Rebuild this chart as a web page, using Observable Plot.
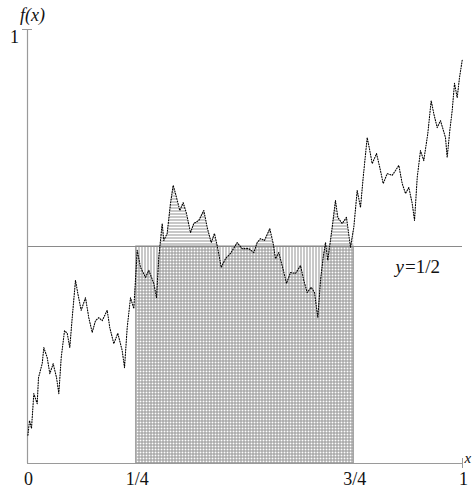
<!DOCTYPE html>
<html>
<head>
<meta charset="utf-8">
<script src="https://cdn.jsdelivr.net/npm/d3@7"></script>
<script src="https://cdn.jsdelivr.net/npm/@observablehq/plot@0.6"></script>
<style>
  html, body { margin: 0; padding: 0; background: #fff; }
  svg { display: block; }
  svg text { font-family: 'Liberation Serif', 'Times New Roman', serif !important; }
</style>
</head>
<body>
<div id="chart"></div>
<script>
// Curve samples (x in [0,1], f(x) in [0,1])
const xs = [0.001,0.0046,0.0092,0.0145,0.0223,0.0253,0.0338,0.0375,0.0453,0.0513,0.0591,0.0667,0.0720,0.0775,0.0851,0.0913,0.0972,0.1028,0.1103,0.1156,0.1234,0.1333,0.1409,0.1487,0.1563,0.1639,0.1717,0.1832,0.1892,0.1984,0.2076,0.2177,0.2230,0.2292,0.2368,0.2444,0.2522,0.2598,0.2713,0.2789,0.2903,0.2966,0.3018,0.3097,0.3133,0.3211,0.3287,0.3349,0.3402,0.3501,0.3579,0.3655,0.3747,0.3823,0.3938,0.4053,0.4131,0.4223,0.4299,0.4375,0.4453,0.4552,0.4667,0.4821,0.4936,0.5087,0.5202,0.5280,0.5356,0.5448,0.5570,0.5648,0.5701,0.5777,0.5855,0.5954,0.6046,0.6161,0.6276,0.6352,0.6430,0.6522,0.6598,0.6674,0.6736,0.6798,0.6851,0.6903,0.7005,0.7080,0.7133,0.7234,0.7333,0.7425,0.7501,0.7579,0.7655,0.7717,0.7809,0.7869,0.7924,0.8023,0.8099,0.8177,0.8269,0.8384,0.8460,0.8536,0.8614,0.8690,0.8766,0.8844,0.8897,0.8959,0.9034,0.9110,0.9202,0.9280,0.9340,0.9418,0.9494,0.9609,0.9648,0.9708,0.9763,0.9816,0.9878,0.9931,0.9993];
const fs = [0.065,0.099,0.081,0.161,0.138,0.198,0.230,0.267,0.244,0.207,0.230,0.198,0.161,0.244,0.306,0.300,0.267,0.336,0.422,0.392,0.353,0.382,0.336,0.302,0.329,0.336,0.329,0.353,0.313,0.276,0.300,0.260,0.221,0.313,0.382,0.357,0.491,0.452,0.429,0.445,0.415,0.382,0.475,0.553,0.514,0.530,0.599,0.641,0.622,0.583,0.601,0.576,0.532,0.553,0.560,0.583,0.544,0.509,0.530,0.495,0.452,0.472,0.484,0.509,0.495,0.495,0.486,0.509,0.518,0.514,0.541,0.507,0.472,0.486,0.456,0.415,0.440,0.438,0.456,0.422,0.394,0.406,0.394,0.336,0.422,0.475,0.509,0.468,0.544,0.606,0.567,0.553,0.567,0.498,0.544,0.629,0.590,0.659,0.751,0.721,0.691,0.714,0.682,0.645,0.668,0.664,0.675,0.687,0.645,0.622,0.636,0.599,0.560,0.659,0.721,0.698,0.760,0.836,0.806,0.774,0.790,0.751,0.705,0.767,0.813,0.876,0.843,0.889,0.929];

const intervalStart = 0.25;
const intervalEnd = 0.75;
const level = 0.5;
const xTicks = [0, 0.25, 0.75, 1];
const xTickLabels = ["0", "1/4", "3/4", "1"];
const yTicks = [1];
const yTickLabels = ["1"];

const curve = xs.map((x, i) => ({x, y: fs[i]}));
const inInterval = curve.filter(d => d.x >= intervalStart && d.x <= intervalEnd + 0.001);
const serif = "'Liberation Serif', 'Times New Roman', serif";

const W = 473, H = 488;

const plot = Plot.plot({
  width: W,
  height: H,
  marginLeft: 27,
  marginRight: 11,
  marginTop: 29,
  marginBottom: 25,
  x: {domain: [0, 1], axis: null},
  y: {domain: [0, 1], axis: null},
  style: {fontFamily: serif, background: "white", overflow: "visible"},
  marks: [
    Plot.rect([{a: intervalStart, b: intervalEnd, lv: level}], {
      x1: "a", x2: "b", y1: () => 0, y2: "lv",
      fill: "url(#vstripe)", stroke: "#8a8a8a", strokeWidth: 1
    }),
    Plot.areaY(inInterval, {x: "x", y: "y", fill: "url(#hstripe)"}),
    Plot.ruleY([level], {x1: 0, x2: 1, stroke: "#8a8a8a", strokeWidth: 1}),
    Plot.ruleY([0], {stroke: "#9a9a9a", strokeWidth: 1.2}),
    Plot.ruleX([0], {stroke: "#9a9a9a", strokeWidth: 1.2}),
    Plot.ruleY(yTicks, {x1: 0, x2: 0, insetLeft: -5, insetRight: -5, stroke: "#9a9a9a"}),
    Plot.ruleX([1], {y1: 0, y2: 0, insetTop: -5, insetBottom: -5, stroke: "#9a9a9a"}),
    Plot.line(curve, {x: "x", y: "y", stroke: "#000", strokeWidth: 1.1, strokeDasharray: "1,1.6"}),
    Plot.text(xTicks.map((t, i) => ({t, s: xTickLabels[i]})), {
      x: "t", y: () => 0, text: "s", dy: 16, dx: 1, fontSize: 18, fill: "#111", fontFamily: serif
    }),
    Plot.text(yTicks.map((t, i) => ({t, s: yTickLabels[i]})), {
      x: () => 0, y: "t", text: "s", dx: -13, dy: 8, fontSize: 18, fill: "#111", fontFamily: serif
    }),
    Plot.text([{s: "f(x)"}], {
      x: () => 0, y: () => 1, text: "s", dx: 5, dy: -14, fontSize: 18, fontStyle: "italic", fill: "#111", fontFamily: serif
    }),
    Plot.text([{s: "x"}], {
      x: () => 1, y: () => 0, text: "s", dx: 2, dy: -5, textAnchor: "start", fontSize: 15, fontStyle: "italic", fill: "#111", fontFamily: serif
    }),
    Plot.text([{s: "y"}], {
      x: () => 0.9, y: () => level, text: "s", dx: -15, dy: 20, textAnchor: "end", fontSize: 19, fontStyle: "italic", fill: "#111", fontFamily: serif
    }),
    Plot.text([{s: "=1/2"}], {
      x: () => 0.9, y: () => level, text: "s", dx: -14, dy: 20, textAnchor: "start", fontSize: 19, fill: "#111", fontFamily: serif
    })
  ]
});

// stripe patterns used by the shaded regions
const ns = "http://www.w3.org/2000/svg";
const defs = document.createElementNS(ns, "defs");
defs.innerHTML = `
  <pattern id="vstripe" patternUnits="userSpaceOnUse" width="3" height="3">
    <rect x="0" y="0" width="2" height="3" fill="#9a9a9a" fill-opacity="0.55"></rect>
  </pattern>
  <pattern id="hstripe" patternUnits="userSpaceOnUse" width="3" height="3">
    <rect x="0" y="0" width="3" height="2" fill="#9a9a9a" fill-opacity="0.55"></rect>
  </pattern>`;
plot.insertBefore(defs, plot.firstChild);

document.getElementById("chart").appendChild(plot);
</script>
</body>
</html>
